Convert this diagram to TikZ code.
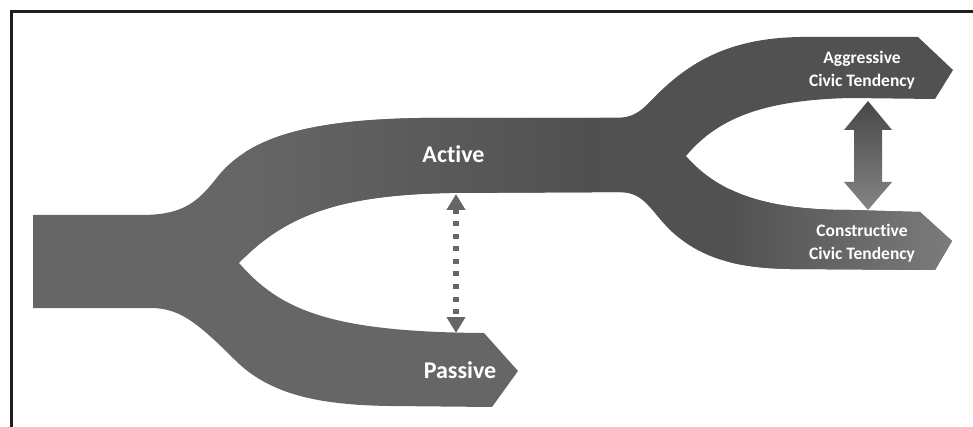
\documentclass[tikz,border=0pt]{standalone}
\usepackage{fontspec}
\setmainfont{Carlito}[Ligatures=NoCommon]
\usetikzlibrary{arrows.meta}
\definecolor{trunkgray}{HTML}{666666}
\definecolor{activegray}{HTML}{4D4D4D}
\definecolor{forkgray}{HTML}{515151}
\definecolor{paletip}{HTML}{7C7C7C}
% outlines of the two forks
\newcommand{\firstfork}{(33,215) -- (140,215) .. controls (180,215) and (195,205) .. (215,180) .. controls (245,140) and (300,120) .. (420,118) -- (640,118) -- (640,192) -- (450,193) .. controls (340,195) and (285,215) .. (239,263) .. controls (280,310) and (330,332) .. (484,333) -- (518,371) -- (492,407) -- (390,406) .. controls (320,405) and (270,395) .. (235,360) .. controls (195,320) and (178,308) .. (150,308) -- (33,308) -- cycle}
\newcommand{\secondfork}{(600,118) -- (615,118) .. controls (640,118) and (645,105) .. (665,87) .. controls (700,55) and (740,38) .. (800,37) -- (918,37) -- (953,70) -- (935,99) -- (850,98) .. controls (770,100) and (720,115) .. (686,156) .. controls (720,195) and (770,210) .. (850,210) -- (920,212) -- (952,241) -- (935,270) -- (790,269) .. controls (735,268) and (700,258) .. (670,230) .. controls (650,210) and (645,193) .. (620,192) -- (600,192) -- cycle}
\begin{document}
\begin{tikzpicture}[x=1pt,y=-1pt,>=Triangle,
  frameline/.style={line width=3pt,draw=black!88},
  bandlabel/.style={text=white,font=\fontsize{24}{28}\selectfont\bfseries},
  tiplabel/.style={text=white,align=center,font=\fontsize{17.5}{23}\selectfont\bfseries},
  dotlink/.style={draw=trunkgray,line width=5.5pt,dash pattern=on 5pt off 7.5pt,
    {Triangle[width=18pt,length=16pt]}-{Triangle[width=18pt,length=16pt]}}]
\useasboundingbox (0,0) rectangle (973,427);
\draw[frameline] (11.5,427) -- (11.5,11.5) -- (973,11.5);

% first fork: trunk, active, passive
\fill[trunkgray] \firstfork;
\begin{scope}
\clip \firstfork;
\shade[left color=trunkgray,right color=activegray] (245,100) rectangle (640,262);
\end{scope}

% second fork: aggressive, constructive
\fill[forkgray] \secondfork;
\begin{scope}
\clip \secondfork;
\shade[left color=forkgray,right color=paletip] (730,185) rectangle (955,272);
\end{scope}

\node[bandlabel,anchor=base] (active) at (453.5,163) {Active};
\node[bandlabel,anchor=base] (passive) at (460,378) {Passive};
\node[tiplabel,anchor=base] (aggressive) at (862,87) {Aggressive\\Civic Tendency};
\node[tiplabel,anchor=base] (constructive) at (862,260) {Constructive\\Civic Tendency};

\coordinate (activefoot) at (456,194);
\coordinate (passivehead) at (456,333);
\draw[dotlink] (activefoot) -- (passivehead);

\coordinate (aggfoot) at (868,101);
\shade[top color=black!72,middle color=black!67,bottom color=black!48]
  (aggfoot) -- ++(24,29) -- ++(-10,0) -- ++(0,52) -- ++(10,0) -- ++(-24,28)
  -- ++(-24,-28) -- ++(10,0) -- ++(0,-52) -- ++(-10,0) -- cycle;
\end{tikzpicture}
\end{document}
